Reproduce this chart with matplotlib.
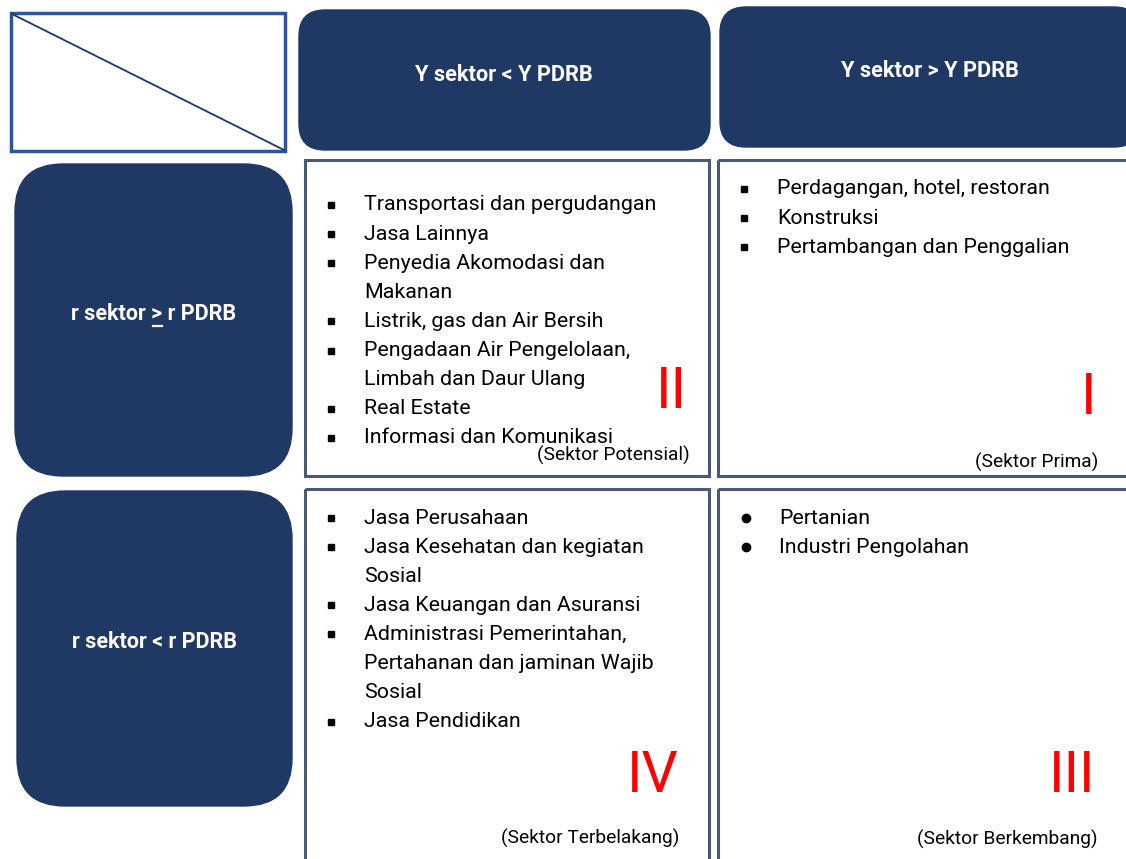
import matplotlib
matplotlib.use("Agg")
import matplotlib.pyplot as plt
from matplotlib.patches import FancyBboxPatch, Rectangle

plt.rcParams['font.family'] = ['Liberation Sans Narrow', 'Roboto', 'DejaVu Sans']

# Isi kuadran
col_labels = ["Y sektor < Y PDRB", "Y sektor > Y PDRB"]
row_labels = ["r sektor > r PDRB", "r sektor < r PDRB"]

items_II = ["Transportasi dan pergudangan", "Jasa Lainnya",
            "Penyedia Akomodasi dan\nMakanan", "Listrik, gas dan Air Bersih",
            "Pengadaan Air Pengelolaan,\nLimbah dan Daur Ulang", "Real Estate",
            "Informasi dan Komunikasi"]
items_I = ["Perdagangan, hotel, restoran", "Konstruksi",
           "Pertambangan dan Penggalian"]
items_IV = ["Jasa Perusahaan", "Jasa Kesehatan dan kegiatan\nSosial",
            "Jasa Keuangan dan Asuransi",
            "Administrasi Pemerintahan,\nPertahanan dan jaminan Wajib\nSosial",
            "Jasa Pendidikan"]
items_III = ["Pertanian", "Industri Pengolahan"]

quadrant_names = ["II", "I", "IV", "III"]
sector_names = ["(Sektor Potensial)", "(Sektor Prima)",
                "(Sektor Terbelakang)", "(Sektor Berkembang)"]

navy = "#203864"
cell_edge = "#4a5a73"

fig = plt.figure(figsize=(11.26, 8.59), dpi=100)
ax = fig.add_axes([0, 0, 1, 1])
ax.set_xlim(0, 1126)
ax.set_ylim(859, 0)
ax.axis("off")

# kotak kiri atas dengan garis diagonal
ax.add_patch(Rectangle((11, 13), 274, 138, fill=False, ec="#2f5597", lw=2.5))
ax.plot([12, 284], [14, 150], color=navy, lw=1.3)


def rbox(x, y, w, h, r):
    ax.add_patch(FancyBboxPatch((x, y), w, h, boxstyle=f"round,pad=0,rounding_size={r}",
                                fc=navy, ec=navy, lw=1))


# header kolom
rbox(299, 10, 411, 140, 26)
rbox(720, 7, 420, 140, 26)
ax.text(504, 75, col_labels[0], color="white", fontsize=15.7, fontweight="bold",
        ha="center", va="center")
ax.text(930, 71, col_labels[1], color="white", fontsize=15.7, fontweight="bold",
        ha="center", va="center")

# header baris
rbox(15, 164, 277, 312, 48)
rbox(17, 491, 275, 315, 48)
lab_fs = 15.5
t1 = ax.text(154, 314, row_labels[0], color="white", fontsize=lab_fs, fontweight="bold",
             ha="center", va="center")
ax.text(154, 642, row_labels[1], color="white", fontsize=lab_fs, fontweight="bold",
        ha="center", va="center")

# garis bawah pada tanda ">"
fig.canvas.draw()
r = fig.canvas.get_renderer()
full = t1.get_window_extent(r)
tmp = ax.text(0, 0, "r sektor ", fontsize=lab_fs, fontweight="bold")
tmp2 = ax.text(0, 0, ">", fontsize=lab_fs, fontweight="bold")
w_pre = tmp.get_window_extent(r).width
w_gt = tmp2.get_window_extent(r).width
tmp.remove()
tmp2.remove()
x0 = full.x0 + w_pre
ybase = fig.bbox.height - full.y0 + 1
ax.plot([x0 + 1, x0 + w_gt - 1], [ybase, ybase], color="white", lw=1.6)

# sel kuadran
cells = [(305, 160, 404, 316), (718, 160, 420, 316),
         (305, 489, 404, 380), (718, 489, 420, 380)]
for (x, y, w, h) in cells:
    ax.add_patch(Rectangle((x, y), w, h, fill=False, ec=cell_edge, lw=2.2))

line_h = 29.1
body_fs = 15.4


def bullets(items, bx, tx, y0, marker, ms):
    y = y0
    for it in items:
        ax.plot(bx, y, marker=marker, color="black", ms=ms, ls="none")
        for ln in it.split("\n"):
            ax.text(tx, y, ln, fontsize=body_fs, ha="left", va="center", color="black")
            y += line_h


bullets(items_II, 331, 364, 205, "s", 5)
bullets(items_I, 744, 777, 189, "s", 5)
bullets(items_IV, 331, 364, 518, "s", 5)
bullets(items_III, 746, 779, 518, "o", 6)

# angka romawi
roman_pos = [(687, 393), (1096, 398), (679, 776), (1095, 776)]
for name, (x, y) in zip(quadrant_names, roman_pos):
    ax.text(x, y, name, color="#ff0000", fontsize=41, ha="right", va="center")

sector_pos = [(690, 455), (1098, 462), (679, 838), (1098, 839)]
for name, (x, y) in zip(sector_names, sector_pos):
    ax.text(x, y, name, fontsize=13.8, ha="right", va="center", color="black")

fig.savefig("out.png", dpi=100)
